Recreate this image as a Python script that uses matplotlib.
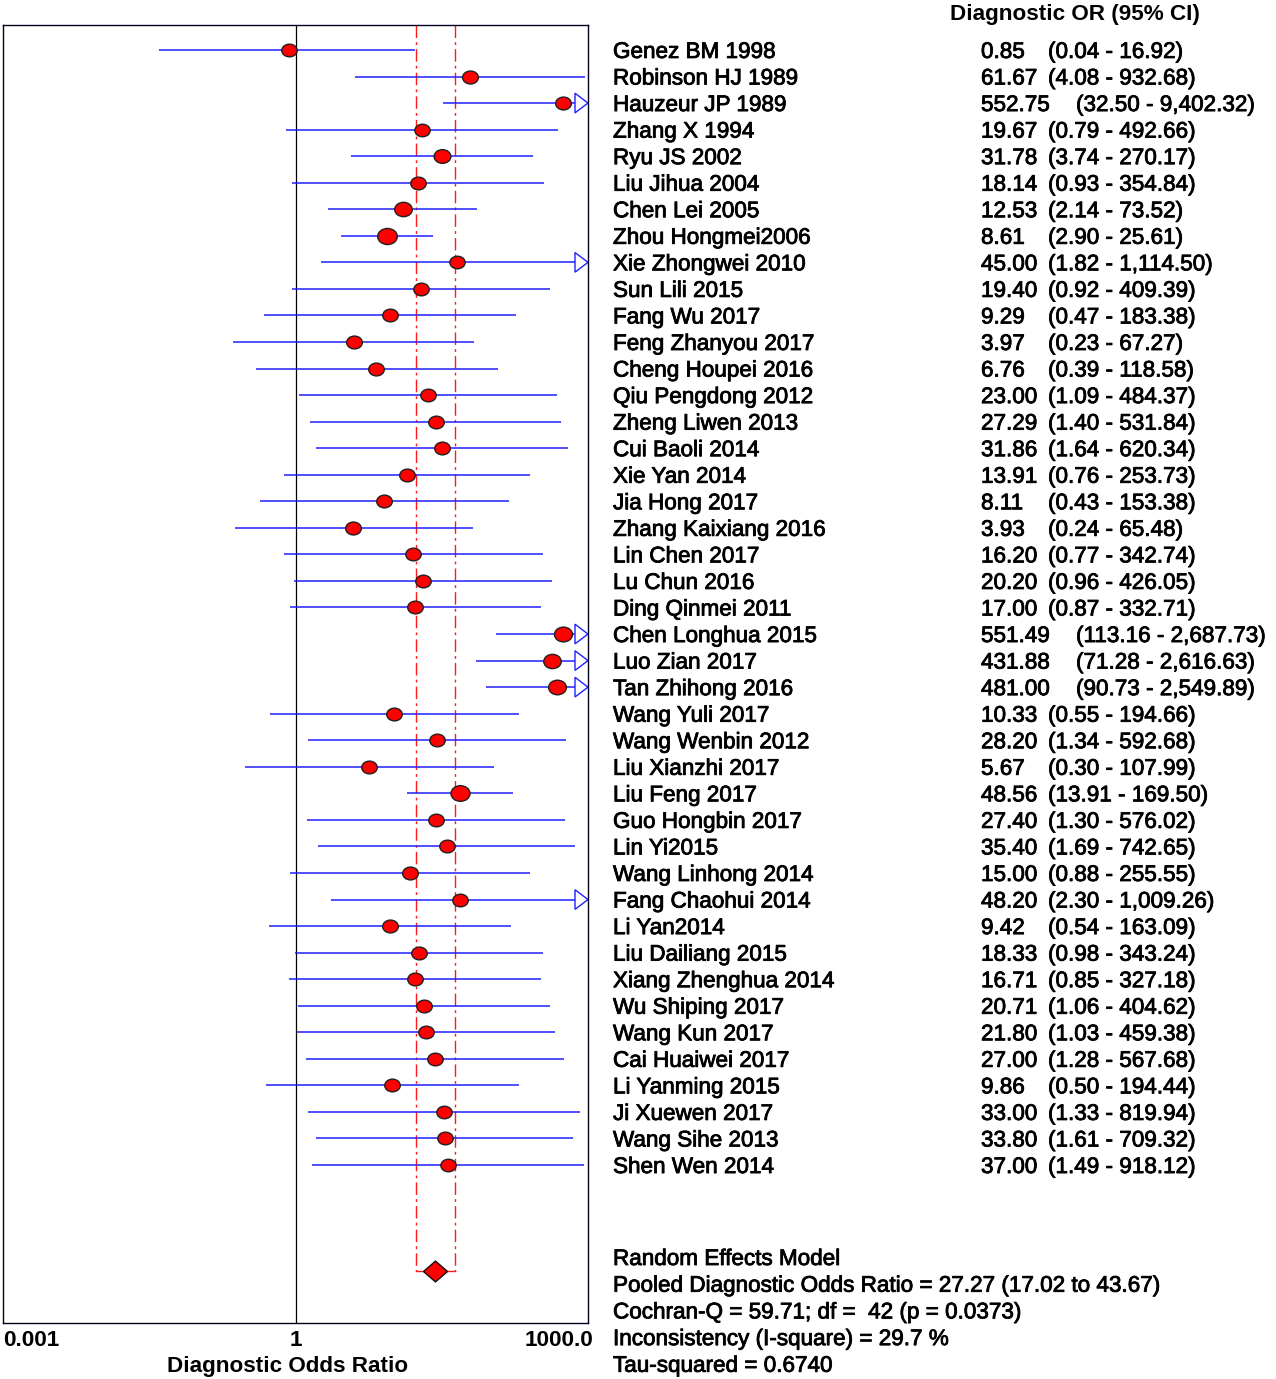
import numpy as np
import matplotlib
matplotlib.use("Agg")
import matplotlib.pyplot as plt
import matplotlib.patheffects as pe
from matplotlib.path import Path
from matplotlib.patches import Polygon
from matplotlib.transforms import Affine2D, blended_transform_factory

plt.rcParams['font.family'] = ['Liberation Sans', 'DejaVu Sans']

# DATA
studies = ['Genez BM 1998', 'Robinson HJ 1989', 'Hauzeur JP 1989', 'Zhang X 1994',
           'Ryu JS 2002', 'Liu Jihua 2004', 'Chen Lei 2005', 'Zhou Hongmei2006',
           'Xie Zhongwei 2010', 'Sun Lili 2015', 'Fang Wu 2017', 'Feng Zhanyou 2017',
           'Cheng Houpei 2016', 'Qiu Pengdong 2012', 'Zheng Liwen 2013', 'Cui Baoli 2014',
           'Xie Yan 2014', 'Jia Hong 2017', 'Zhang Kaixiang 2016', 'Lin Chen 2017',
           'Lu Chun 2016', 'Ding Qinmei 2011', 'Chen Longhua 2015', 'Luo Zian 2017',
           'Tan Zhihong 2016', 'Wang Yuli 2017', 'Wang Wenbin 2012', 'Liu Xianzhi 2017',
           'Liu Feng 2017', 'Guo Hongbin 2017', 'Lin Yi2015', 'Wang Linhong 2014',
           'Fang Chaohui 2014', 'Li Yan2014', 'Liu Dailiang 2015', 'Xiang Zhenghua 2014',
           'Wu Shiping 2017', 'Wang Kun 2017', 'Cai Huaiwei 2017', 'Li Yanming 2015',
           'Ji Xuewen 2017', 'Wang Sihe 2013', 'Shen Wen 2014']
dor = [0.85, 61.67, 552.75, 19.67, 31.78, 18.14, 12.53, 8.61, 45.00, 19.40,
       9.29, 3.97, 6.76, 23.00, 27.29, 31.86, 13.91, 8.11, 3.93, 16.20,
       20.20, 17.00, 551.49, 431.88, 481.00, 10.33, 28.20, 5.67, 48.56, 27.40,
       35.40, 15.00, 48.20, 9.42, 18.33, 16.71, 20.71, 21.80, 27.00, 9.86,
       33.00, 33.80, 37.00]
lcl = [0.04, 4.08, 32.50, 0.79, 3.74, 0.93, 2.14, 2.90, 1.82, 0.92,
       0.47, 0.23, 0.39, 1.09, 1.40, 1.64, 0.76, 0.43, 0.24, 0.77,
       0.96, 0.87, 113.16, 71.28, 90.73, 0.55, 1.34, 0.30, 13.91, 1.30,
       1.69, 0.88, 2.30, 0.54, 0.98, 0.85, 1.06, 1.03, 1.28, 0.50,
       1.33, 1.61, 1.49]
ucl = [16.92, 932.68, 9402.32, 492.66, 270.17, 354.84, 73.52, 25.61, 1114.50, 409.39,
       183.38, 67.27, 118.58, 484.37, 531.84, 620.34, 253.73, 153.38, 65.48, 342.74,
       426.05, 332.71, 2687.73, 2616.63, 2549.89, 194.66, 592.68, 107.99, 169.50, 576.02,
       742.65, 255.55, 1009.26, 163.09, 343.24, 327.18, 404.62, 459.38, 567.68, 194.44,
       819.94, 709.32, 918.12]

pooled = 27.27
pooled_lcl = 17.02
pooled_ucl = 43.67
tau2 = 0.6740
stats_lines = ['Random Effects Model',
               'Pooled Diagnostic Odds Ratio = 27.27 (17.02 to 43.67)',
               'Cochran-Q = 59.71; df =  42 (p = 0.0373)',
               'Inconsistency (I-square) = 29.7 %',
               'Tau-squared = 0.6740']

XMIN, XMAX = 0.001, 1000.0
W, H = 1276, 1379
n = len(studies)
ROW_PX = 26.55


def fx(x):
    return x / W


def fy(y):
    return 1 - y / H


def fmt(v):
    return '{:,.2f}'.format(v)


fig = plt.figure(figsize=(W / 100, H / 100), dpi=100)
ax = fig.add_axes([fx(3), fy(1323), fx(588) - fx(3), fy(25) - fy(1323)])
ax.set_xscale('log')
ax.set_xlim(XMIN, XMAX)
ax.set_ylim(47.95, -0.94)
ax.set_xticks([])
ax.set_yticks([])
ax.minorticks_off()
for s in ax.spines.values():
    s.set_color('#000020')
    s.set_linewidth(1.0)

# line of no effect and pooled CI
ax.axvline(1, color='black', lw=0.9, zorder=1)
diam_y = 46.0
for xv in (pooled_lcl, pooled_ucl):
    ax.plot([xv, xv], [-0.94, diam_y], color='#ff1a1a', lw=1.0,
            linestyle=(0, (9, 3, 2, 3)), zorder=1)
ax.plot([pooled_lcl, pooled_ucl], [diam_y, diam_y], color='#ff1a1a', lw=1.0, zorder=1)

# marker shapes
ellipse = Path.unit_circle().transformed(Affine2D().scale(1.22, 1.0))
diamond = Path([(0, 1), (1.15, 0), (0, -1), (-1.15, 0), (0, 1)],
               [Path.MOVETO, Path.LINETO, Path.LINETO, Path.LINETO, Path.CLOSEPOLY])

arrow_base = XMAX / 10 ** (13 / 97.5)
for i in range(n):
    right = ucl[i] if ucl[i] <= XMAX else arrow_base
    ax.plot([lcl[i], right], [i, i], color='#2020ff', lw=1.1, zorder=2,
            solid_capstyle='butt')
    if ucl[i] > XMAX:
        tri = Polygon([(arrow_base, i - 0.37), (XMAX, i), (arrow_base, i + 0.37)],
                      closed=True, facecolor='white', edgecolor='#2020ff',
                      lw=1.0, zorder=2, clip_on=False)
        ax.add_patch(tri)
    se = (np.log(ucl[i]) - np.log(lcl[i])) / 3.92
    w = 1.0 / (se ** 2 + tau2)
    size_px = 13.5 + 6.0 * w
    ax.plot(dor[i], i, marker=ellipse, markersize=size_px * 0.72,
            markerfacecolor='#ff0000', markeredgecolor='#202020',
            markeredgewidth=1.0, zorder=3, clip_on=False)

ax.plot(pooled, diam_y, marker=diamond, markersize=24 * 0.72,
        markerfacecolor='#ff0000', markeredgecolor='#101010',
        markeredgewidth=1.0, zorder=3)

# study labels and values, slightly heavier strokes like the original bitmap text
fs = 16.2
heavy = [pe.withStroke(linewidth=0.6, foreground='black')]
trans = blended_transform_factory(fig.transFigure, ax.transData)
for i in range(n):
    yb = i + 8 / ROW_PX
    ax.text(fx(613), yb, studies[i], transform=trans, fontsize=fs,
            va='baseline', ha='left', clip_on=False, path_effects=heavy)
    or_txt = fmt(dor[i])
    ax.text(fx(981), yb, or_txt, transform=trans, fontsize=fs,
            va='baseline', ha='left', clip_on=False, path_effects=heavy)
    ci_x = 1076 if len(or_txt) > 5 else 1048
    ax.text(fx(ci_x), yb, '(' + fmt(lcl[i]) + ' - ' + fmt(ucl[i]) + ')',
            transform=trans, fontsize=fs, va='baseline', ha='left', clip_on=False,
            path_effects=heavy)

fig.text(fx(950), fy(20), 'Diagnostic OR (95% CI)', fontsize=fs,
         fontweight='bold', va='baseline', ha='left')

for k, line in enumerate(stats_lines):
    fig.text(fx(613), fy(1265 + k * 26.7), line, fontsize=fs,
             va='baseline', ha='left', path_effects=heavy)

# axis labels
fig.text(fx(3), fy(1346), '0.001', fontsize=fs, fontweight='bold',
         va='baseline', ha='left')
fig.text(fx(296), fy(1346), '1', fontsize=fs, fontweight='bold',
         va='baseline', ha='center')
fig.text(fx(593), fy(1346), '1000.0', fontsize=fs, fontweight='bold',
         va='baseline', ha='right')
fig.text(fx(288), fy(1372), 'Diagnostic Odds Ratio', fontsize=fs,
         fontweight='bold', va='baseline', ha='center')

fig.savefig('out.png', dpi=100, facecolor='white')
